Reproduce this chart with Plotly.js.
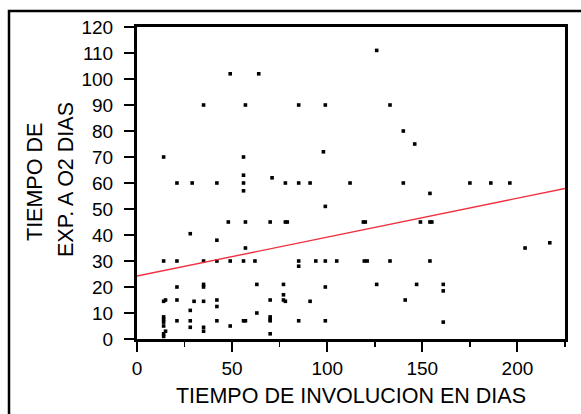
<!DOCTYPE html>
<html>
<head>
<meta charset="utf-8">
<script src="https://cdn.plot.ly/plotly-3.0.1.min.js"></script>
<style>
  html, body { margin: 0; padding: 0; background: #ffffff; }
  #chart { width: 581px; height: 414px; }
</style>
</head>
<body>
<div id="chart"></div>
<script>
// Involution time (days) vs. time of O2 exposure (days), one point per patient
const involucionDias = [
  49, 64, 35, 57, 14, 56, 56, 71, 21, 29, 42, 56,
  126, 85, 99, 133, 140, 146, 98, 78, 85, 91, 112, 140,
  175, 186, 196,
  56, 48, 57, 70, 28, 42, 57,
  14, 21, 35, 42, 49, 56, 62,
  99, 78, 79, 119, 120, 149, 154, 155,
  85, 94, 99, 105, 119.5, 121, 133, 154,
  85, 154, 204, 217,
  21, 35, 35, 63, 14, 15, 21, 30, 35, 42, 42, 70, 28, 63,
  14, 14, 14, 14, 15, 14, 14,
  21, 28, 42, 28, 35, 35, 49, 56, 57, 70, 70, 70, 70,
  77, 77, 77, 78, 91, 99, 126, 147, 141, 85, 99,
  161, 161, 161
];
const exposicionO2Dias = [
  102, 102, 90, 90, 70, 70, 63, 62, 60, 60, 60, 60,
  111, 90, 90, 90, 80, 75, 72, 60, 60, 60, 60, 60,
  60, 60, 60,
  57, 45, 45, 45, 40.5, 38, 35,
  30, 30, 30, 30, 30, 30, 30,
  51, 45, 45, 45, 45, 45, 45, 45,
  30, 30, 30, 30, 30, 30, 30, 30,
  28, 56, 35, 37,
  20, 21, 20, 21, 14.5, 15, 15, 14.5, 14.5, 15, 12.5, 15, 11, 10,
  8.5, 7.5, 6.5, 5, 3, 2, 1,
  7, 7, 7, 4.5, 4.5, 3, 5, 7, 7, 8.5, 7.5, 7, 2,
  21, 17, 15, 14.5, 14.5, 20, 21, 21, 15, 7, 7,
  21, 18.5, 6.5
];

// Fitted regression line, read at both ends of the x range
const rectaX = [0, 225];
const rectaY = [24.2, 57.9];

const xTicks = [0, 50, 100, 150, 200];
const yTicks = [0, 10, 20, 30, 40, 50, 60, 70, 80, 90, 100, 110, 120];

// y-axis title, one entry per line
const tituloY = ['TIEMPO DE', 'EXP. A O2 DIAS'];

const fuente = 'Liberation Sans, Arial, sans-serif';

// plot-area geometry in pixels, used to place the frame and title lines
const plotL = 137, plotR = 565, plotT = 27, plotB = 339;
const pxToPaperX = px => (px - plotL) / (plotR - plotL);
const pxToPaperY = py => (plotB - py) / (plotB - plotT);

const traces = [
  {
    type: 'scatter',
    mode: 'markers',
    x: involucionDias,
    y: exposicionO2Dias,
    marker: { symbol: 'square', size: 3.6, color: '#000000', line: { width: 0 } },
    hoverinfo: 'x+y',
    showlegend: false,
    cliponaxis: true
  },
  {
    type: 'scatter',
    mode: 'lines',
    x: rectaX,
    y: rectaY,
    line: { color: '#f0303f', width: 1.4 },
    hoverinfo: 'skip',
    showlegend: false
  }
];

const layout = {
  width: 581,
  height: 414,
  margin: { l: plotL, r: 581 - plotR, t: plotT, b: 414 - plotB, pad: 0 },
  paper_bgcolor: '#ffffff',
  plot_bgcolor: '#ffffff',
  font: { family: fuente, color: '#000000', size: 19 },
  showlegend: false,
  xaxis: {
    range: [0, 225],
    tickmode: 'array',
    tickvals: xTicks,
    ticktext: xTicks.map(String),
    ticks: 'outside',
    ticklen: 10,
    tickwidth: 2,
    tickcolor: '#000000',
    minor: { ticks: 'outside', dtick: 25, tick0: 0, ticklen: 5, tickwidth: 1.5, tickcolor: '#000000' },
    showline: true,
    linewidth: 3,
    linecolor: '#000000',
    mirror: true,
    showgrid: false,
    zeroline: false,
    tickfont: { family: fuente, size: 19, color: '#000000' },
    title: {
      text: 'TIEMPO DE INVOLUCION EN DIAS',
      font: { family: fuente, size: 21.5, color: '#000000' },
      standoff: 11
    }
  },
  yaxis: {
    range: [0, 120],
    tickmode: 'array',
    tickvals: yTicks,
    ticktext: yTicks.map(String),
    ticks: 'outside',
    ticklen: 10,
    tickwidth: 2,
    tickcolor: '#000000',
    ticklabelstandoff: 7,
    showline: true,
    linewidth: 3,
    linecolor: '#000000',
    mirror: true,
    showgrid: false,
    zeroline: false,
    tickfont: { family: fuente, size: 19, color: '#000000' }
  },
  annotations: [
    {
      text: tituloY[0],
      xref: 'paper', yref: 'paper',
      x: pxToPaperX(35), y: pxToPaperY(182),
      xanchor: 'center', yanchor: 'middle',
      textangle: -90, showarrow: false,
      font: { family: fuente, size: 21.5, color: '#000000' }
    },
    {
      text: tituloY[1],
      xref: 'paper', yref: 'paper',
      x: pxToPaperX(66), y: pxToPaperY(180),
      xanchor: 'center', yanchor: 'middle',
      textangle: -90, showarrow: false,
      font: { family: fuente, size: 21.5, color: '#000000' }
    }
  ],
  shapes: [
    {
      // outer frame around the figure
      type: 'rect',
      xref: 'paper', yref: 'paper',
      x0: pxToPaperX(9), x1: pxToPaperX(600),
      y0: pxToPaperY(430), y1: pxToPaperY(11),
      line: { color: '#000000', width: 2.5 },
      fillcolor: 'rgba(0,0,0,0)',
      layer: 'above'
    }
  ]
};

Plotly.newPlot('chart', traces, layout, { staticPlot: true, displayModeBar: false });
</script>
</body>
</html>
